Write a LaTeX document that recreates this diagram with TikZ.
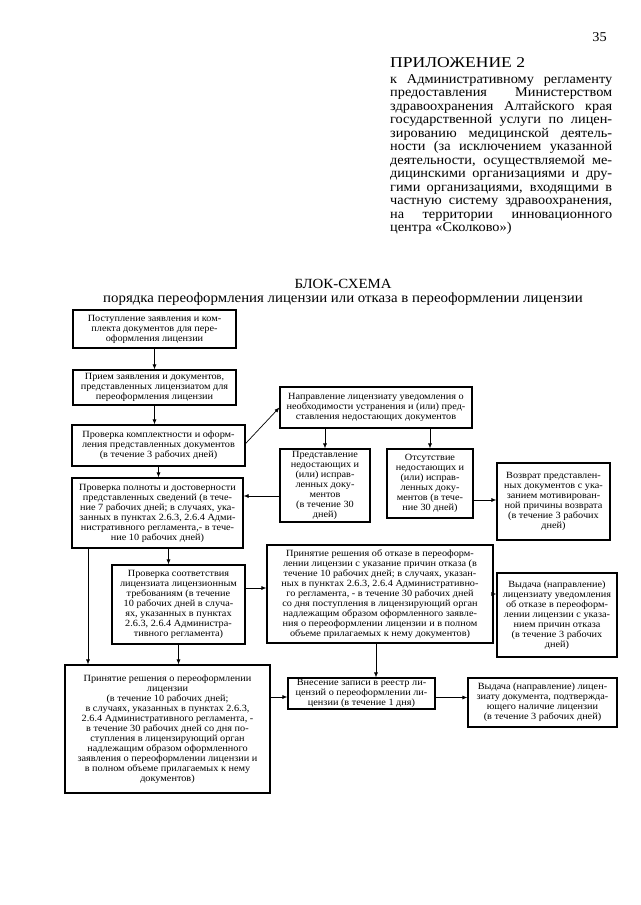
\documentclass[tikz,border=0pt]{standalone}
\usepackage{fontspec}
\setmainfont{Liberation Serif}
\newfontfamily\boxfont[FakeStretch=1.08]{Liberation Serif}
\newfontfamily\hdrfont[FakeStretch=1.06]{Liberation Serif}
\newfontfamily\appfont[FakeStretch=1.17]{Liberation Serif}
\newfontfamily\ttlfont[FakeStretch=1.06]{Liberation Serif}
\usetikzlibrary{arrows.meta}
\tikzset{
  bx/.style={draw, line width=1.2pt, inner sep=0pt, align=center,
    font=\boxfont\fontsize{9.5}{10}\selectfont},
  arr/.style={line width=0.7pt, -{Latex[length=5pt,width=4pt]}},
  hdr/.style={inner sep=0pt, font=\hdrfont\fontsize{13.5}{13.5}\selectfont},
  app/.style={inner sep=0pt, font=\appfont\fontsize{15}{16}\selectfont},
  ttl/.style={inner sep=0pt, font=\ttlfont\fontsize{14}{14}\selectfont}
}
\begin{document}
\begin{tikzpicture}[x=1pt,y=-1pt]
\useasboundingbox (0,0) rectangle (640,905);
\fill[white] (0,0) rectangle (640,905);
% header
\node[hdr, anchor=base east] (pg) at (607,41) {35};
\node[app, anchor=base west] (app) at (390,67) {ПРИЛОЖЕНИЕ 2};
\foreach \t [count=\i] in {{к Административному регламенту},{предоставления Министерством},{здравоохранения Алтайского края},{государственной услуги по лицен-},{зированию медицинской деятель-},{ности (за исключением указанной},{деятельности, осуществляемой ме-},{дицинскими организациями и дру-},{гими организациями, входящими в},{частную систему здравоохранения,},{на территории инновационного}}
  \node[hdr, anchor=base west] (h\i) at (390,{83+13.5*(\i-1)}) {\makebox[222pt][s]{\t}};
\node[hdr, anchor=base west] (h12) at (390,{83+13.5*11}) {центра «Сколково»)};
% title
\node[ttl, anchor=base] (t1) at (343,288) {БЛОК-СХЕМА};
\node[ttl, anchor=base] (t2) at (343,302) {порядка переоформления лицензии или отказа в переоформлении лицензии};
% boxes
\node[bx, minimum width=163, minimum height=38] (b1) at (154.5,329) {Поступление заявления и ком-\\плекта документов для пере-\\оформления лицензии};
\node[bx, minimum width=163, minimum height=35] (b2) at (154.5,387.5) {Прием заявления и документов,\\представленных лицензиатом для\\переоформления лицензии};
\node[bx, minimum width=173, minimum height=41] (b3) at (158.5,445.5) {Проверка комплектности и оформ-\\ления представленных документов\\(в течение 3 рабочих дней)};
\node[bx, minimum width=171, minimum height=70] (b4) at (157.5,513) {Проверка полноты и достоверности\\представленных сведений (в тече-\\ние 7 рабочих дней; в случаях, ука-\\занных в пунктах 2.6.3, 2.6.4 Адми-\\нистративного регламента,- в тече-\\ние 10 рабочих дней)};
\node[bx, minimum width=133, minimum height=79] (b5) at (178.5,604.5) {Проверка соответствия\\лицензиата лицензионным\\требованиям (в течение\\10 рабочих дней в случа-\\ях, указанных в пунктах\\2.6.3, 2.6.4 Администра-\\тивного регламента)};
\node[bx, minimum width=192, minimum height=41] (b6) at (376,407.5) {Направление лицензиату уведомления о\\необходимости устранения и (или) пред-\\ставления недостающих документов};
\node[bx, minimum width=90, minimum height=73] (b7a) at (325,485.5) {Представление\\недостающих и\\(или) исправ-\\ленных доку-\\ментов\\(в течение 30\\дней)};
\node[bx, minimum width=86, minimum height=69] (b7b) at (430,483.5) {Отсутствие\\недостающих и\\(или) исправ-\\ленных доку-\\ментов (в тече-\\ние 30 дней)};
\node[bx, minimum width=113, minimum height=77] (b7c) at (553.5,501.5) {Возврат представлен-\\ных документов с ука-\\занием мотивирован-\\ной причины возврата\\(в течение 3 рабочих\\дней)};
\node[bx, minimum width=226, minimum height=98] (b9) at (380,594) {Принятие решения об отказе в переоформ-\\лении лицензии с указание причин отказа (в\\течение 10 рабочих дней; в случаях, указан-\\ных в пунктах 2.6.3, 2.6.4 Административно-\\го регламента, - в течение 30 рабочих дней\\со дня поступления в лицензирующий орган\\надлежащим образом оформленного заявле-\\ния о переоформлении лицензии и в полном\\объеме прилагаемых к нему документов)};
\node[bx, minimum width=120, minimum height=84] (b10) at (557,615) {Выдача (направление)\\лицензиату уведомления\\об отказе в переоформ-\\лении лицензии с указа-\\нием причин отказа\\(в течение 3 рабочих\\дней)};
\node[bx, minimum width=205, minimum height=128] (b8) at (167.5,729) {Принятие решения о переоформлении\\лицензии\\(в течение 10 рабочих дней;\\в случаях, указанных в пунктах 2.6.3,\\2.6.4 Административного регламента, -\\в течение 30 рабочих дней со дня по-\\ступления в лицензирующий орган\\надлежащим образом оформленного\\заявления о переоформлении лицензии и\\в полном объеме прилагаемых к нему\\документов)};
\node[bx, minimum width=147, minimum height=31] (b11) at (361.5,693.5) {Внесение записи в реестр ли-\\цензий о переоформлении ли-\\цензии (в течение 1 дня)};
\node[bx, minimum width=149, minimum height=49] (b12) at (542.5,702.5) {Выдача (направление) лицен-\\зиату документа, подтвержда-\\ющего наличие лицензии\\(в течение 3 рабочих дней)};
% connectors
\draw[arr] (b1.south) -- (b2.north);
\draw[arr] (b2.south) -- (b2.south |- b3.north);
\draw[arr] (b3.south) -- (b3.south |- b4.north);
\draw[arr] ([xshift=11pt]b4.south) -- ([xshift=11pt]b4.south |- b5.north);
\draw[arr] ([xshift=-69.5pt]b4.south) -- ([xshift=-69.5pt]b4.south |- b8.north);
\draw[arr] (b5.south) -- (b5.south |- b8.north);
\draw[arr] ([yshift=2pt]b3.east) -- (b6.west);
\draw[arr] (b6.south -| b7a.north) -- (b7a.north);
\draw[arr] (b6.south -| b7b.north) -- (b7b.north);
\draw[arr] ([yshift=-10.5pt]b7a.west) -- ([yshift=-10.5pt]b7a.west -| b4.east);
\draw[arr] ([yshift=-16.5pt]b7b.east) -- ([yshift=-16.5pt]b7b.east -| b7c.west);
\draw[arr] ([yshift=16.5pt]b5.east) -- ([yshift=16.5pt]b5.east -| b9.west);
\draw[arr] (b9.east) -- (b9.east -| b10.west);
\draw[arr] ([xshift=-4pt]b9.south) -- ([xshift=-4pt]b9.south |- b11.north);
\draw[arr] ([yshift=32pt]b8.east) -- ([yshift=32pt]b8.east -| b11.west);
\draw[arr] ([yshift=-4pt]b11.east) -- ([yshift=-4pt]b11.east -| b12.west);
\end{tikzpicture}
\end{document}
